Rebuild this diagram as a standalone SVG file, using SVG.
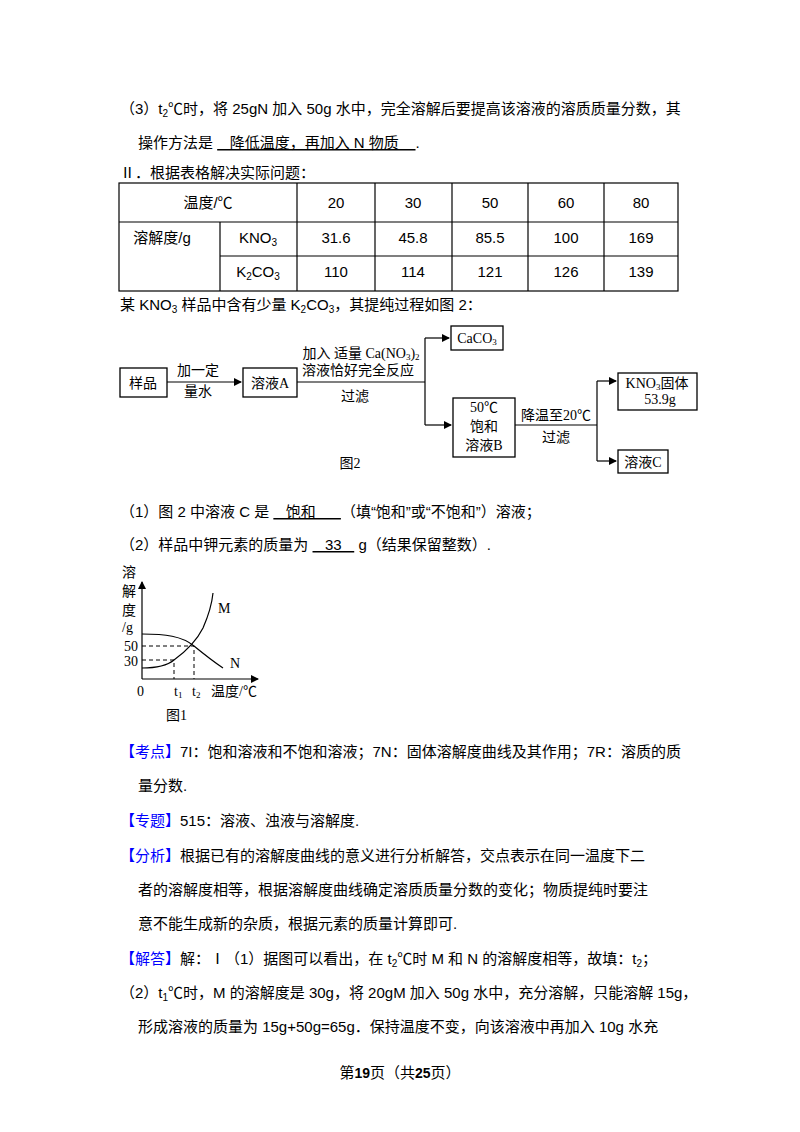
<svg xmlns="http://www.w3.org/2000/svg" width="800" height="1132" viewBox="0 0 800 1132">
<style>
text{font-family:"Liberation Sans","Noto Sans CJK SC",sans-serif;font-size:15px;fill:#000}
.s{font-family:"Liberation Serif","Noto Sans CJK SC",serif;font-size:14px}
.b{fill:#0000ff}
.box{fill:#fff;stroke:#000;stroke-width:1.3}
.ln{fill:none;stroke:#000;stroke-width:1.2}
.d{fill:none;stroke:#000;stroke-width:1;stroke-dasharray:4,3}
</style>
<defs><marker id="a" markerWidth="8" markerHeight="8" refX="7" refY="4" orient="auto" markerUnits="userSpaceOnUse"><path d="M0,0L8,4L0,8z" fill="#000"/></marker></defs>
<rect width="800" height="1132" fill="#fff"/>
<text x="120" y="114">（3）t<tspan font-size="10" dy="3">2</tspan><tspan dy="-3">℃时，将 25gN 加入 50g 水中，完全溶解后要提高该溶液的溶质质量分数，其</tspan></text>
<text x="138" y="148">操作方法是 <tspan text-decoration="underline">&#160;&#160;&#160;降低温度，再加入 N 物质&#160;&#160;&#160;&#160;</tspan>.</text>
<text x="120" y="178">Ⅱ．根据表格解决实际问题：</text>
<g id="table" class="ln">
<rect x="119" y="183" width="559" height="108"/>
<line x1="119" y1="222" x2="678" y2="222"/><line x1="220" y1="256" x2="678" y2="256"/>
<line x1="297" y1="183" x2="297" y2="291"/><line x1="220" y1="222" x2="220" y2="291"/>
<line x1="375" y1="183" x2="375" y2="291"/><line x1="452" y1="183" x2="452" y2="291"/>
<line x1="528" y1="183" x2="528" y2="291"/><line x1="604" y1="183" x2="604" y2="291"/>
</g>
<g text-anchor="middle">
<text x="208" y="208">温度/℃</text><text x="336" y="208">20</text><text x="413" y="208">30</text><text x="490" y="208">50</text><text x="566" y="208">60</text><text x="641" y="208">80</text>
<text x="162" y="243">溶解度/g</text><text x="258" y="243">KNO<tspan font-size="10" dy="3">3</tspan></text>
<text x="336" y="243">31.6</text><text x="413" y="243">45.8</text><text x="490" y="243">85.5</text><text x="566" y="243">100</text><text x="641" y="243">169</text>
<text x="258" y="277">K<tspan font-size="10" dy="3">2</tspan><tspan dy="-3">CO</tspan><tspan font-size="10" dy="3">3</tspan></text>
<text x="336" y="277">110</text><text x="413" y="277">114</text><text x="490" y="277">121</text><text x="566" y="277">126</text><text x="641" y="277">139</text>
</g>
<text x="120" y="310">某 KNO<tspan font-size="10" dy="3">3</tspan><tspan dy="-3"> 样品中含有少量 K</tspan><tspan font-size="10" dy="3">2</tspan><tspan dy="-3">CO</tspan><tspan font-size="10" dy="3">3</tspan><tspan dy="-3">，其提纯过程如图 2：</tspan></text>
<g id="connectors">
<line class="ln" x1="167" y1="382" x2="241" y2="382" marker-end="url(#a)"/>
<path class="ln" d="M297,382H425M425,338V425"/>
<line class="ln" x1="425" y1="338" x2="449" y2="338" marker-end="url(#a)"/>
<line class="ln" x1="425" y1="425" x2="451" y2="425" marker-end="url(#a)"/>
<path class="ln" d="M515,425H597M597,381V461"/>
<line class="ln" x1="597" y1="381" x2="616" y2="381" marker-end="url(#a)"/>
<line class="ln" x1="597" y1="461" x2="616" y2="461" marker-end="url(#a)"/>
</g>
<g text-anchor="middle">
<text class="s" x="198" y="375" text-anchor="middle">加一定</text><text class="s" x="198" y="396" text-anchor="middle">量水</text>
<text class="s" x="361" y="358" text-anchor="middle">加入 适量 Ca(NO<tspan font-size="9" dy="2">3</tspan><tspan dy="-2">)</tspan><tspan font-size="9" dy="2">2</tspan></text>
<text class="s" x="358" y="375" text-anchor="middle">溶液恰好完全反应</text><text class="s" x="355" y="401" text-anchor="middle">过滤</text>
<text class="s" x="556" y="420" text-anchor="middle">降温至20℃</text><text class="s" x="556" y="442" text-anchor="middle">过滤</text>
</g>
<g id="n1"><rect class="box" x="120" y="368" width="47" height="29"/><text class="s" x="143" y="388" text-anchor="middle">样品</text></g>
<g id="n2"><rect class="box" x="243" y="368" width="54" height="29"/><text class="s" x="270" y="388" text-anchor="middle">溶液A</text></g>
<g id="n3"><rect class="box" x="451" y="326" width="52" height="24"/><text class="s" x="477" y="343" text-anchor="middle">CaCO<tspan font-size="9" dy="2">3</tspan></text></g>
<g id="n4"><rect class="box" x="453" y="398" width="62" height="59"/><text class="s" x="484" y="412" text-anchor="middle">50℃</text><text class="s" x="484" y="431" text-anchor="middle">饱和</text><text class="s" x="484" y="450" text-anchor="middle">溶液B</text></g>
<g id="n5"><rect class="box" x="618" y="373" width="79" height="37"/><text class="s" x="657" y="388" text-anchor="middle">KNO<tspan font-size="9" dy="2">3</tspan><tspan dy="-2">固体</tspan></text><text class="s" x="660" y="404" text-anchor="middle">53.9g</text></g>
<g id="n6"><rect class="box" x="618" y="450" width="50" height="23"/><text class="s" x="643" y="467" text-anchor="middle">溶液C</text></g>
<text class="s" x="350" y="468" text-anchor="middle">图2</text>
<text x="120" y="517">（1）图 2 中溶液 C 是 <tspan text-decoration="underline">&#160;&#160;&#160;饱和&#160;&#160;&#160;&#160;&#160;&#160;</tspan>（填“饱和”或“不饱和”）溶液；</text>
<text x="120" y="550">（2）样品中钾元素的质量为 <tspan text-decoration="underline">&#160;&#160;&#160;33&#160;&#160;&#160;</tspan> g（结果保留整数）.</text>
<g id="graph">
<line class="ln" x1="142" y1="679" x2="142" y2="582" marker-end="url(#a)"/>
<line class="ln" x1="142" y1="679" x2="258" y2="679" marker-end="url(#a)"/>
<path class="ln" d="M142,634C165,634 182,636 194,646C205,655 214,662 223,668"/>
<path class="ln" d="M142,668C158,668 168,665 174,660C185,652 196,642 203,628C210,612 212,603 213,593"/>
<path class="d" d="M142,646H194V679M142,660H174V679"/>
<text class="s" x="122" y="577">溶</text><text class="s" x="122" y="596">解</text><text class="s" x="122" y="615">度</text><text class="s" x="122" y="632">/g</text>
<text class="s" x="124" y="651">50</text><text class="s" x="124" y="666">30</text>
<text class="s" x="218" y="613">M</text><text class="s" x="230" y="668">N</text>
<text class="s" x="137" y="696">0</text><text class="s" x="174" y="696">t<tspan font-size="9" dy="2">1</tspan></text><text class="s" x="192" y="696">t<tspan font-size="9" dy="2">2</tspan></text><text class="s" x="211" y="696">温度/℃</text>
<text class="s" x="166" y="720">图1</text>
</g>
<text x="120" y="757"><tspan class="b">【考点】</tspan>7I：饱和溶液和不饱和溶液；7N：固体溶解度曲线及其作用；7R：溶质的质</text>
<text x="138" y="791">量分数.</text>
<text x="120" y="826"><tspan class="b">【专题】</tspan>515：溶液、浊液与溶解度.</text>
<text x="120" y="861"><tspan class="b">【分析】</tspan>根据已有的溶解度曲线的意义进行分析解答，交点表示在同一温度下二</text>
<text x="138" y="895">者的溶解度相等，根据溶解度曲线确定溶质质量分数的变化；物质提纯时要注</text>
<text x="138" y="929">意不能生成新的杂质，根据元素的质量计算即可.</text>
<text x="120" y="964"><tspan class="b">【解答】</tspan>解：Ⅰ（1）据图可以看出，在 t<tspan font-size="10" dy="3">2</tspan><tspan dy="-3">℃时 M 和 N 的溶解度相等，故填：t</tspan><tspan font-size="10" dy="3">2</tspan><tspan dy="-3">；</tspan></text>
<text x="120" y="998">（2）t<tspan font-size="10" dy="3">1</tspan><tspan dy="-3">℃时，M 的溶解度是 30g，将 20gM 加入 50g 水中，充分溶解，只能溶解 15g，</tspan></text>
<text x="138" y="1032">形成溶液的质量为 15g+50g=65g．保持温度不变，向该溶液中再加入 10g 水充</text>
<text x="400" y="1078" text-anchor="middle" font-size="12">第<tspan font-weight="bold" font-size="14">19</tspan>页（共<tspan font-weight="bold" font-size="14">25</tspan>页）</text>
</svg>
